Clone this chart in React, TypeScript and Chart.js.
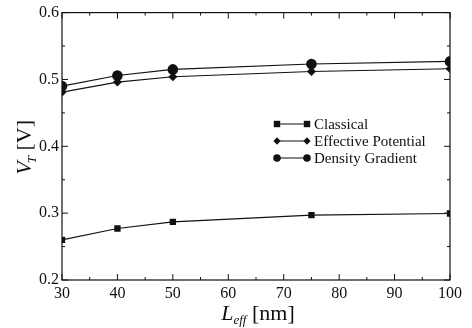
import React, { useEffect, useRef } from "react";
import { Chart, registerables } from "chart.js";

Chart.register(...registerables);

const lengths = [30, 40, 50, 75, 100];
const classical = [0.26, 0.277, 0.287, 0.297, 0.2995];
const effectivePotential = [0.481, 0.496, 0.504, 0.512, 0.516];
const densityGradient = [0.49, 0.506, 0.515, 0.523, 0.527];
const xTicks = [30, 40, 50, 60, 70, 80, 90, 100];
const yTicks = [0.2, 0.3, 0.4, 0.5, 0.6];
const seriesNames = ["Classical", "Effective Potential", "Density Gradient"];

const FONT = '"Liberation Serif", "DejaVu Serif", serif';

function drawMarker(ctx: CanvasRenderingContext2D, style: string, r: number, x: number, y: number) {
  ctx.beginPath();
  if (style === "rect") {
    ctx.rect(x - r, y - r, 2 * r, 2 * r);
  } else if (style === "rectRot") {
    ctx.moveTo(x, y - r * 1.3);
    ctx.lineTo(x + r * 1.3, y);
    ctx.lineTo(x, y + r * 1.3);
    ctx.lineTo(x - r * 1.3, y);
    ctx.closePath();
  } else {
    ctx.arc(x, y, r, 0, Math.PI * 2);
  }
  ctx.fill();
}

const framePlugin = {
  id: "frame",
  afterDraw(chart: any) {
    const { ctx, chartArea: a, scales } = chart;
    const xs = scales.x;
    const ys = scales.y;
    ctx.save();
    ctx.strokeStyle = "#111";
    ctx.lineWidth = 1.2;
    ctx.strokeRect(a.left, a.top, a.right - a.left, a.bottom - a.top);
    ctx.lineWidth = 1;
    for (let i = 0; i < xTicks.length; i++) {
      const v = xTicks[i];
      const px = xs.getPixelForValue(v);
      ctx.beginPath();
      ctx.moveTo(px, a.bottom);
      ctx.lineTo(px, a.bottom - 6);
      ctx.moveTo(px, a.top);
      ctx.lineTo(px, a.top + 6);
      ctx.stroke();
      if (i < xTicks.length - 1) {
        const m = xs.getPixelForValue((v + xTicks[i + 1]) / 2);
        ctx.beginPath();
        ctx.moveTo(m, a.bottom);
        ctx.lineTo(m, a.bottom - 3);
        ctx.moveTo(m, a.top);
        ctx.lineTo(m, a.top + 3);
        ctx.stroke();
      }
    }
    for (let i = 0; i < yTicks.length; i++) {
      const v = yTicks[i];
      const py = ys.getPixelForValue(v);
      ctx.beginPath();
      ctx.moveTo(a.left, py);
      ctx.lineTo(a.left + 6, py);
      ctx.moveTo(a.right, py);
      ctx.lineTo(a.right - 6, py);
      ctx.stroke();
      if (i < yTicks.length - 1) {
        const m = ys.getPixelForValue((v + yTicks[i + 1]) / 2);
        ctx.beginPath();
        ctx.moveTo(a.left, m);
        ctx.lineTo(a.left + 3, m);
        ctx.moveTo(a.right, m);
        ctx.lineTo(a.right - 3, m);
        ctx.stroke();
      }
    }

    ctx.fillStyle = "#111";
    ctx.textBaseline = "alphabetic";
    const cx = (a.left + a.right) / 2;
    const by = 320;
    ctx.font = `italic 22px ${FONT}`;
    const wL = ctx.measureText("L").width;
    ctx.font = `italic 13px ${FONT}`;
    const wSub = ctx.measureText("eff").width;
    ctx.font = `22px ${FONT}`;
    const wRest = ctx.measureText(" [nm]").width;
    const x0 = cx - (wL + wSub + wRest) / 2 + 2;
    ctx.textAlign = "left";
    ctx.font = `italic 22px ${FONT}`;
    ctx.fillText("L", x0, by);
    ctx.font = `italic 13px ${FONT}`;
    ctx.fillText("eff", x0 + wL, by + 4);
    ctx.font = `22px ${FONT}`;
    ctx.fillText(" [nm]", x0 + wL + wSub, by);

    ctx.save();
    ctx.translate(31, (a.top + a.bottom) / 2);
    ctx.rotate(-Math.PI / 2);
    ctx.font = `italic 22px ${FONT}`;
    const wV = ctx.measureText("V").width;
    ctx.font = `italic 13px ${FONT}`;
    const wT = ctx.measureText("T").width;
    ctx.font = `22px ${FONT}`;
    const wR = ctx.measureText(" [V]").width;
    const y0 = -(wV + wT + wR) / 2;
    ctx.font = `italic 22px ${FONT}`;
    ctx.fillText("V", y0, 0);
    ctx.font = `italic 13px ${FONT}`;
    ctx.fillText("T", y0 + wV - 2, 5);
    ctx.font = `22px ${FONT}`;
    ctx.fillText(" [V]", y0 + wV + wT - 2, 0);
    ctx.restore();

    const styles = ["rect", "rectRot", "circle"];
    const radii = [3.2, 2.8, 3.8];
    const rows = [124, 141, 158];
    ctx.font = `15px ${FONT}`;
    ctx.textBaseline = "middle";
    for (let i = 0; i < seriesNames.length; i++) {
      const y = rows[i];
      ctx.beginPath();
      ctx.moveTo(277, y);
      ctx.lineTo(307, y);
      ctx.stroke();
      ctx.fillStyle = "#111";
      drawMarker(ctx, styles[i], radii[i], 277, y);
      drawMarker(ctx, styles[i], radii[i], 307, y);
      ctx.fillText(seriesNames[i], 314, y + 1);
    }
    ctx.restore();
  },
};

export default function App() {
  const ref = useRef<HTMLCanvasElement>(null);
  useEffect(() => {
    document.body.style.margin = "0";
    const mk = (label: string, data: number[], style: string, r: number) => ({
      label,
      data: lengths.map((x, i) => ({ x, y: data[i] })),
      borderColor: "#111",
      backgroundColor: "#111",
      borderWidth: 1.1,
      pointStyle: style,
      pointRadius: r,
      pointBorderWidth: 0,
      tension: 0,
    });
    const chart = new Chart(ref.current!, {
      type: "line",
      data: {
        datasets: [
          mk(seriesNames[0], classical, "rect", 4.5),
          mk(seriesNames[1], effectivePotential, "rectRot", 4.5),
          mk(seriesNames[2], densityGradient, "circle", 5.3),
        ],
      },
      options: {
        animation: false,
        responsive: false,
        events: [],
        layout: { padding: { top: 7, right: 22, left: 0, bottom: 0 } },
        plugins: { legend: { display: false }, tooltip: { enabled: false } },
        scales: {
          x: {
            type: "linear",
            min: 30,
            max: 100,
            afterFit: (s: any) => { s.height = 48; },
            afterBuildTicks: (s: any) => { s.ticks = xTicks.map((v) => ({ value: v })); },
            grid: { display: false, drawTicks: false },
            border: { display: false },
            ticks: { color: "#111", font: { family: FONT, size: 16 }, padding: 4, maxRotation: 0, autoSkip: false },
          },
          y: {
            min: 0.2,
            max: 0.6,
            afterFit: (s: any) => { s.width = 62; },
            afterBuildTicks: (s: any) => { s.ticks = yTicks.map((v) => ({ value: v })); },
            grid: { display: false, drawTicks: false },
            border: { display: false },
            ticks: {
              color: "#111",
              font: { family: FONT, size: 16 },
              padding: 3,
              callback: (v: any) => Number(v).toFixed(1),
            },
          },
        },
      } as any,
      plugins: [framePlugin],
    });
    return () => chart.destroy();
  }, []);
  return <canvas ref={ref} width={472} height={328} style={{ display: "block" }} />;
}
